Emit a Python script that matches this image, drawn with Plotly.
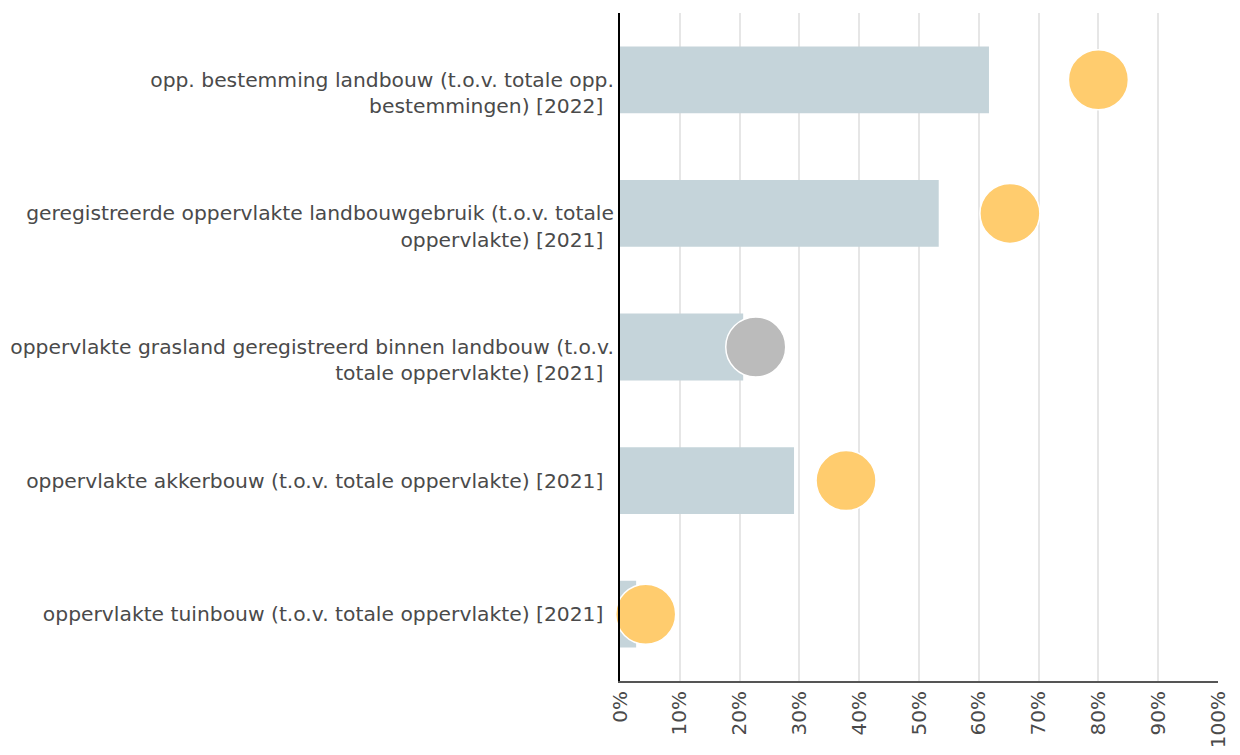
import plotly.graph_objects as go

categories = [
    "opp. bestemming landbouw (t.o.v. totale opp.<br>bestemmingen) [2022]",
    "geregistreerde oppervlakte landbouwgebruik (t.o.v. totale<br>oppervlakte) [2021]",
    "oppervlakte grasland geregistreerd binnen landbouw (t.o.v.<br>totale oppervlakte) [2021]",
    "oppervlakte akkerbouw (t.o.v. totale oppervlakte) [2021]",
    "oppervlakte tuinbouw (t.o.v. totale oppervlakte) [2021]",
]
bar_values = [61.7, 53.3, 20.6, 29.1, 2.7]
dot_values = [80.0, 65.2, 22.7, 37.8, 4.3]
dot_colors = ["#ffcc6e", "#ffcc6e", "#bbbbbb", "#ffcc6e", "#ffcc6e"]
tick_vals = [0, 10, 20, 30, 40, 50, 60, 70, 80, 90, 100]
tick_text = [f"{v}%" for v in tick_vals]

# multi-line labels hang down from the bar centre (first line aligned with bar)
PAD = "\u00a0\u2009"
y_ticktext = [((" <br>" + c) if "<br>" in c else c) + PAD for c in categories]

FONT = "DejaVu Sans, Liberation Sans, Arial, sans-serif"

fig = go.Figure()
fig.add_trace(go.Bar(
    y=categories, x=bar_values, orientation="h",
    marker=dict(color="#c5d4da", line=dict(width=0)),
    width=0.5, hoverinfo="x",
))
fig.add_trace(go.Scatter(
    y=categories, x=dot_values, mode="markers",
    marker=dict(size=60, color=dot_colors, line=dict(color="white", width=1.5)),
    cliponaxis=False,
))

fig.update_layout(
    width=1240, height=755,
    margin=dict(l=612, r=30, t=5, b=82),
    paper_bgcolor="white", plot_bgcolor="white",
    showlegend=False,
    font=dict(family=FONT, size=20, color="#4a4a4a"),
    xaxis=dict(
        range=[0, 100], tickvals=tick_vals, ticktext=tick_text, tickangle=-90,
        showgrid=True, gridcolor="#e6e6e6", gridwidth=1.5,
        showline=True, linecolor="#555555", linewidth=2,
        zeroline=False, ticks="", tickfont=dict(family=FONT, size=20, color="#4a4a4a"),
        automargin=False, fixedrange=True,
    ),
    yaxis=dict(
        categoryorder="array", categoryarray=categories,
        range=[len(categories) - 0.5, -0.5],
        tickmode="array", tickvals=categories, ticktext=y_ticktext,
        showline=True, linecolor="#000000", linewidth=2,
        showgrid=False, ticks="",
        tickfont=dict(family=FONT, size=20.3, color="#4a4a4a"),
        automargin=False, fixedrange=True,
    ),
    bargap=0.5,
)

fig.write_html("out.html")
